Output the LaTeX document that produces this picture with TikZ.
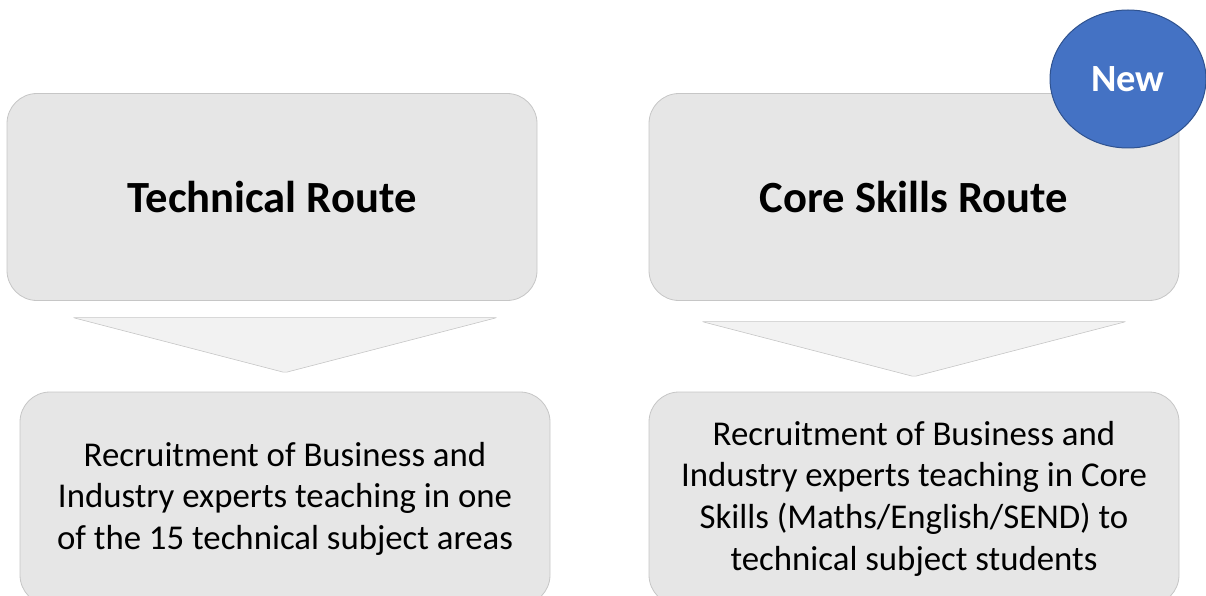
\documentclass[tikz,border=0pt]{standalone}
\usepackage{fontspec}
\setmainfont{Carlito}
\usetikzlibrary{shapes.geometric}

\definecolor{boxgrey}{HTML}{E6E6E6}
\definecolor{edgegrey}{HTML}{C6C6C6}
\definecolor{arrowgrey}{HTML}{F2F2F2}
\definecolor{newblue}{HTML}{4472C4}
\definecolor{newedge}{HTML}{2F528F}

\tikzstyle{route} = [draw=edgegrey, fill=boxgrey, line width=0.8pt, rounded corners=30pt, minimum width=530pt, minimum height=207pt, font=\fontsize{44.6}{52}\selectfont\bfseries]
\tikzstyle{detail} = [route, minimum height=213pt, align=center, font=\fontsize{34.8}{41.6}\selectfont]
\tikzstyle{chevron} = [draw=edgegrey, fill=arrowgrey, line width=0.6pt, rounded corners=2pt]
\tikzstyle{badge} = [ellipse, draw=newedge, fill=newblue, line width=1pt, minimum width=156pt, minimum height=138pt, text=white, font=\fontsize{38.5}{44}\selectfont\bfseries]

\begin{document}
\begin{tikzpicture}[x=1pt, y=-1pt, node distance=642pt]
\useasboundingbox (0,0) rectangle (1206,596);
\clip (0,0) rectangle (1206,596);

\node (1) [route] at (272,197) {Technical Route};
\node (2) [route, right of=1] {Core Skills Route};
% lower boxes run off the bottom edge
\node (3) [detail] at (285,498.5) {Recruitment of Business and\\Industry experts teaching in one\\of the 15 technical subject areas};
\node (4) [detail, right of=3, xshift=-13pt] {Recruitment of Business and\\Industry experts teaching in Core\\Skills (Maths/English/SEND) to\\technical subject students};

% down arrows between the two rows
\draw [chevron] (3.north) ++(-212,-74) -- ++(424,0) -- ++(-212,55) -- cycle;
\draw [chevron] (4.north) ++(-212,-70) -- ++(424,0) -- ++(-212,55) -- cycle;

\node (5) [badge] at (1128,79) {New};

\end{tikzpicture}
\end{document}
